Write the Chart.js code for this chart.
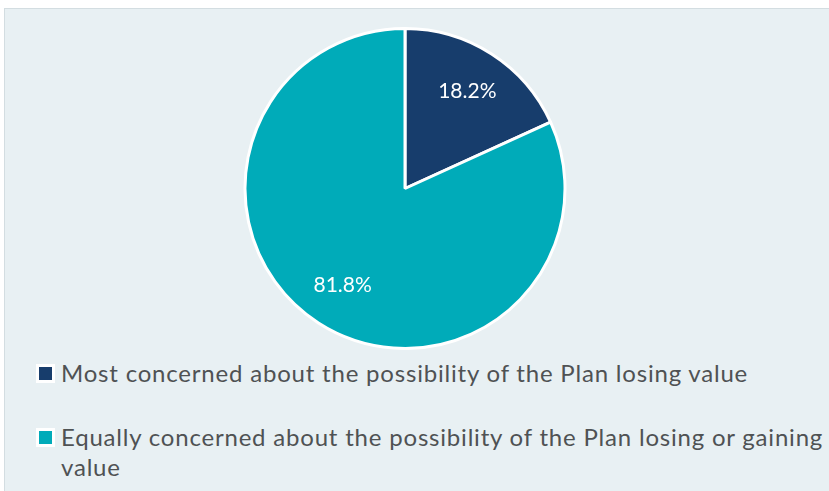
<!DOCTYPE html>
<html>
<head>
<meta charset="utf-8">
<script src="https://cdn.jsdelivr.net/npm/chart.js@4/dist/chart.umd.min.js"></script>
<style>
  html, body { margin: 0; padding: 0; background: #fff; }
  body { width: 829px; height: 491px; overflow: hidden; position: relative; font-family: Lato, "Open Sans", sans-serif; }
  .panel {
    position: absolute; left: 4px; top: 8px; width: 840px; height: 500px;
    background: #e8f0f3; border: 1px solid #d3dde1; box-sizing: border-box;
  }
  .chart-wrap { position: absolute; left: 0; top: 27px; width: 810px; height: 323px; }
  #legend {
    position: absolute; left: 36px; top: 358px; width: 800px;
    color: #4f5254; font-size: 24px; letter-spacing: 0.8px;
  }
  .item { display: flex; align-items: flex-start; line-height: 30px; margin-bottom: 34px; }
  .box {
    flex: 0 0 auto; width: 13px; height: 13px; border: 3px solid #fff;
    margin-top: 6px; margin-right: 6px;
  }
  .item span.txt { width: 765px; }
</style>
</head>
<body>
<div class="panel"></div>
<div class="chart-wrap"><canvas id="pieChart"></canvas></div>
<div id="legend"></div>
<script>
const categories = [
  'Most concerned about the possibility of the Plan losing value',
  'Equally concerned about the possibility of the Plan losing or gaining value'
];
const shares = [18.2, 81.8];
const sliceColors = ['#173d6c', '#00abb9'];

// white percentage text, placed part way out along each slice's middle angle
const sliceLabels = {
  id: 'sliceLabels',
  afterDatasetsDraw(chart) {
    const ctx = chart.ctx;
    const meta = chart.getDatasetMeta(0);
    ctx.save();
    ctx.fillStyle = '#ffffff';
    ctx.font = '21px Lato, "Open Sans", sans-serif';
    ctx.textAlign = 'center';
    ctx.textBaseline = 'middle';
    meta.data.forEach(function (arc, i) {
      const mid = (arc.startAngle + arc.endAngle) / 2;
      const r = arc.outerRadius * 0.72;
      ctx.fillText(shares[i].toFixed(1) + '%', arc.x + Math.cos(mid) * r, arc.y + Math.sin(mid) * r);
    });
    ctx.restore();
  }
};

new Chart(document.getElementById('pieChart'), {
  type: 'pie',
  data: {
    labels: categories,
    datasets: [{
      data: shares,
      backgroundColor: sliceColors,
      borderColor: '#ffffff',
      borderWidth: 3
    }]
  },
  options: {
    responsive: true,
    maintainAspectRatio: false,
    animation: false,
    layout: { padding: 0 },
    plugins: {
      legend: { display: false },
      tooltip: { enabled: false }
    }
  },
  plugins: [sliceLabels]
});

// legend as plain text under the pie
const legend = document.getElementById('legend');
categories.forEach(function (name, i) {
  const item = document.createElement('div');
  item.className = 'item';
  const box = document.createElement('span');
  box.className = 'box';
  box.style.background = sliceColors[i];
  const text = document.createElement('span');
  text.className = 'txt';
  text.textContent = name;
  item.appendChild(box);
  item.appendChild(text);
  legend.appendChild(item);
});
</script>
</body>
</html>
